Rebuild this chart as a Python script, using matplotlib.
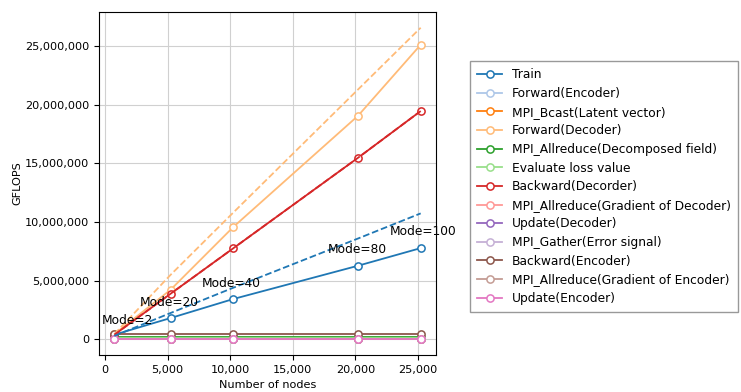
import numpy as np
import matplotlib
matplotlib.use("Agg")
import matplotlib.pyplot as plt
from matplotlib.ticker import FuncFormatter

# Numero de nodos
nodos = [750, 5240, 10240, 20210, 25210]

# GFLOPS por etapa
etiquetas = [
    "Train",
    "Forward(Encoder)",
    "MPI_Bcast(Latent vector)",
    "Forward(Decoder)",
    "MPI_Allreduce(Decomposed field)",
    "Evaluate loss value",
    "Backward(Decorder)",
    "MPI_Allreduce(Gradient of Decoder)",
    "Update(Decoder)",
    "MPI_Gather(Error signal)",
    "Backward(Encoder)",
    "MPI_Allreduce(Gradient of Encoder)",
    "Update(Encoder)",
]
train       = [400000, 1820000, 3440000, 6280000, 7780000]
fwd_enc     = [150000, 150000, 150000, 150000, 150000]
bcast       = [20000, 20000, 20000, 20000, 20000]
fwd_dec     = [450000, 4230000, 9570000, 19060000, 25110000]
allred_dec  = [200000, 200000, 200000, 200000, 200000]
loss        = [100000, 100000, 100000, 100000, 100000]
bwd_dec     = [400000, 3890000, 7760000, 15480000, 19460000]
allred_gdec = [30000, 30000, 30000, 30000, 30000]
upd_dec     = [10000, 10000, 10000, 10000, 10000]
gather      = [20000, 20000, 20000, 20000, 20000]
bwd_enc     = [460000, 460000, 460000, 460000, 460000]
allred_genc = [30000, 30000, 30000, 30000, 30000]
upd_enc     = [0, 0, 0, 0, 0]

series = [train, fwd_enc, bcast, fwd_dec, allred_dec, loss, bwd_dec,
          allred_gdec, upd_dec, gather, bwd_enc, allred_genc, upd_enc]

# Escalado ideal (lineas discontinuas)
ideal_fwd_dec = [450000, 5500000, 10800000, 21300000, 26560000]
ideal_bwd_dec = [400000, 3890000, 7760000, 15480000, 19460000]
ideal_train   = [300000, 2250000, 4400000, 8600000, 10740000]

# Etiquetas de modos
modos   = ["Mode=2", "Mode=20", "Mode=40", "Mode=80", "Mode=100"]
modos_x = [-240, 2790, 7740, 17790, 22740]
modos_y = [1650000, 3180000, 4800000, 7700000, 9230000]

colores = plt.get_cmap("tab20").colors

plt.rcParams["font.size"] = 8.1

fig = plt.figure(figsize=(7.41, 3.92), dpi=100)
ax = fig.add_axes([0.1336, 0.0944, 0.4548, 0.8746])

for i, (lab, val) in enumerate(zip(etiquetas, series)):
    ax.plot(nodos, val, "-o", color=colores[i], label=lab, lw=1.3,
            markersize=5.2, markerfacecolor="white", markeredgewidth=1.1)

ax.plot(nodos, ideal_fwd_dec, "--", color=colores[3], lw=1.3)
ax.plot(nodos, ideal_bwd_dec, "--", color=colores[6], lw=1.3)
ax.plot(nodos, ideal_train, "--", color=colores[0], lw=1.3)

for txt, x, y in zip(modos, modos_x, modos_y):
    ax.text(x, y, txt, ha="left", va="center", fontsize=8.8, clip_on=False)

ax.yaxis.set_major_formatter(FuncFormatter(lambda v, p: "{:,.0f}".format(v)))
ax.xaxis.set_major_formatter(FuncFormatter(lambda v, p: "{:,.0f}".format(v)))
ax.grid(True, color="#d0d0d0", lw=0.8)
ax.set_xlabel("Number of nodes", labelpad=3.5)
ax.set_ylabel("GFLOPS", labelpad=2)

ax.legend(loc="center left", bbox_to_anchor=(1.083, 0.491), fancybox=False,
          edgecolor="#808080", fontsize=8.8, labelspacing=0.46,
          handlelength=2.0, borderpad=0.6)

fig.savefig("out.png", dpi=100)
